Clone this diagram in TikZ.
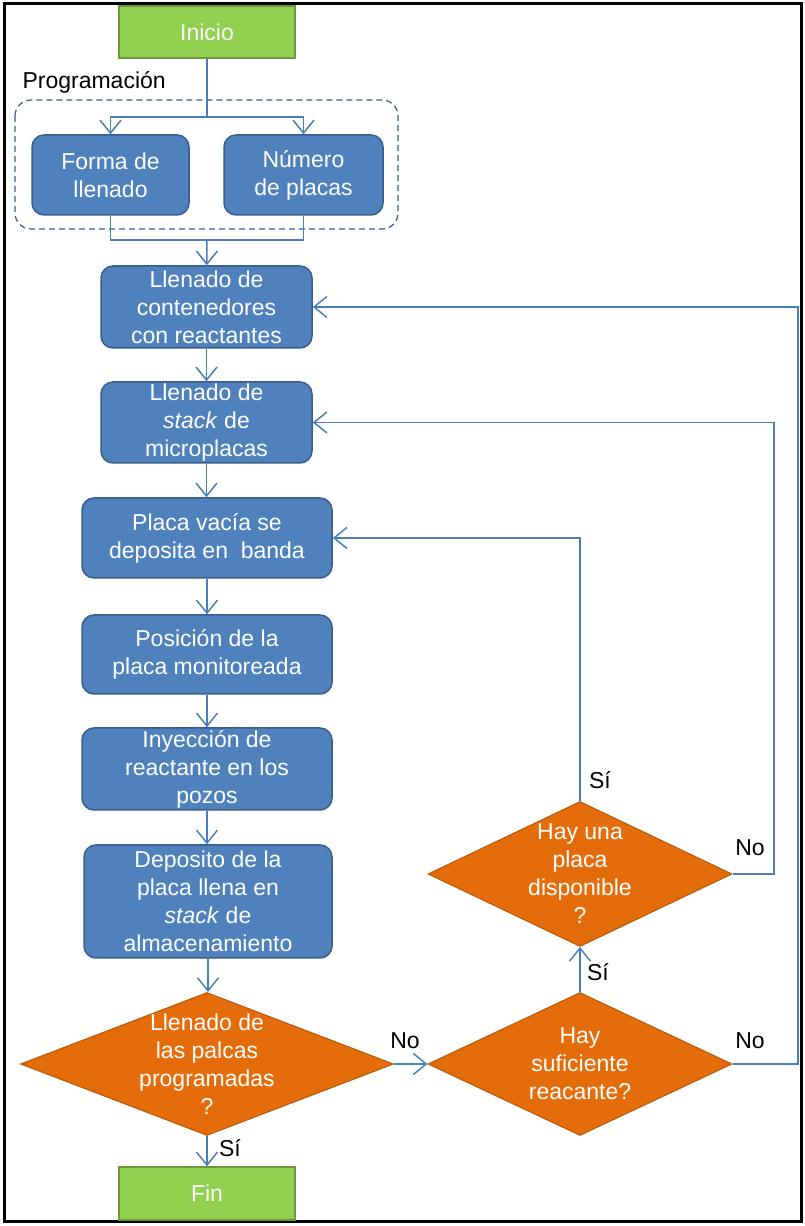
\documentclass[tikz,border=0pt]{standalone}
\usepackage{fontspec}
\setmainfont{Liberation Sans}
\usetikzlibrary{shapes.geometric,arrows.meta}

\definecolor{boxblue}{HTML}{4F81BD}
\definecolor{boxedge}{HTML}{385D8A}
\definecolor{decorange}{HTML}{E46C0A}
\definecolor{decedge}{HTML}{B65708}
\definecolor{termgreen}{HTML}{92D050}
\definecolor{termedge}{HTML}{6A9A3A}
\definecolor{flowblue}{HTML}{4A7EBB}

\begin{document}
\begin{tikzpicture}[x=1pt, y=1pt,
	font=\fontsize{23}{28}\selectfont,
	process/.style={draw=boxedge, line width=1.5pt, fill=boxblue, text=white, rounded corners=12pt, align=center, inner sep=0pt},
	terminal/.style={draw=termedge, line width=1.5pt, fill=termgreen, text=white, minimum width=176pt, minimum height=52pt, inner sep=0pt},
	decision/.style={diamond, draw=decedge, line width=1pt, fill=decorange, inner sep=0pt},
	dectext/.style={text=white, align=center},
	flow/.style={draw=flowblue, line width=1.5pt},
	arrow/.style={flow, -{Straight Barb[length=13pt,width=21pt]}},
	answer/.style={text=black}]

	\useasboundingbox (0,0) rectangle (805,1226);
	% Frame
	\draw[line width=3pt] (4,4) rectangle (801,1222);

	% Start and programming
	\node[terminal] (inicio) at (207,1194) {Inicio};
	\node[anchor=west] (prog) at (19,1144) {Programación};
	\draw[draw=boxedge, line width=1.2pt, dash pattern=on 6pt off 4pt, rounded corners=16pt] (15,1126) rectangle (398,997);
	\node[process, minimum width=157pt, minimum height=80pt] (forma) at (110.5,1051) {Forma de\\llenado};
	\node[process, minimum width=159pt, minimum height=80pt] (numero) at (303.5,1051) {Número\\de placas};

	% Main column
	\node[process, minimum width=211pt, minimum height=82pt] (cont) at (206.5,919) {Llenado de\\contenedores\\con reactantes};
	\node[process, minimum width=211pt, minimum height=81pt] (stack) at (206.5,803.5) {Llenado de\\\textit{stack} de\\microplacas};
	\node[process, minimum width=250pt, minimum height=80pt] (vacia) at (207,688) {Placa vacía se\\deposita en\ \ banda};
	\node[process, minimum width=250pt, minimum height=79pt] (posicion) at (207,571.5) {Posición de la\\placa monitoreada};
	\node[process, minimum width=250pt, minimum height=82pt] (inyeccion) at (207,457) {Inyección de\\reactante en los\\pozos};
	\node[process, minimum width=248pt, minimum height=113pt] (deposito) at (208,324.5) {Deposito de la\\placa llena en\\\textit{stack} de\\almacenamiento};

	% Decisions
	\node[decision, minimum width=373pt, minimum height=143pt] (lleno) at (207,162) {};
	\node[dectext] (llenotxt) at (lleno) {Llenado de\\las palcas\\programadas\\?};
	\node[decision, minimum width=304pt, minimum height=143pt] (reac) at (580,162) {};
	\node[dectext] (reactxt) at (reac) {Hay\\suficiente\\reacante?};
	\node[decision, minimum width=304pt, minimum height=145pt] (placa) at (580,352) {};
	\node[dectext] (placatxt) at (placa) {Hay una\\placa\\disponible\\?};
	\node[terminal, minimum height=53pt] (fin) at (207,32.5) {Fin};

	% Connectors
	\coordinate (split) at (207,1109);
	\coordinate (join) at (207,986);
	\draw[flow] (inicio) -- (split);
	\draw[arrow] (split) -| (forma);
	\draw[arrow] (split) -| (numero);
	\draw[flow] (forma) |- (join);
	\draw[flow] (numero) |- (join);
	\draw[arrow] (join) -- (cont);
	\draw[arrow] (cont) -- (stack);
	\draw[arrow] (stack.south) -- (stack.south |- vacia.north);
	\draw[arrow] (vacia) -- (posicion);
	\draw[arrow] (posicion) -- (inyeccion);
	\draw[arrow] (inyeccion.south) -- (inyeccion.south |- deposito.north);
	\draw[arrow] (deposito.south) -- (deposito.south |- lleno.north);
	\draw[arrow] (lleno) -- (fin);
	\draw[arrow] (lleno) -- (reac);
	\draw[arrow] (reac) -- (placa);
	\draw[arrow] (placa.north) |- (vacia.east);
	\coordinate (noplaca) at (774,352);
	\draw[arrow] (placa.east) -- (noplaca) |- (stack.east);
	\coordinate (noreac) at (798,162);
	\draw[arrow] (reac.east) -- (noreac) |- (cont.east);

	% Answers
	\node[answer] (si1) at (230,78) {Sí};
	\node[answer] (no1) at (405,185) {No};
	\node[answer] (no2) at (750,185) {No};
	\node[answer] (si2) at (598,254) {Sí};
	\node[answer] (no3) at (750,378) {No};
	\node[answer] (si3) at (600,446) {Sí};

\end{tikzpicture}
\end{document}
